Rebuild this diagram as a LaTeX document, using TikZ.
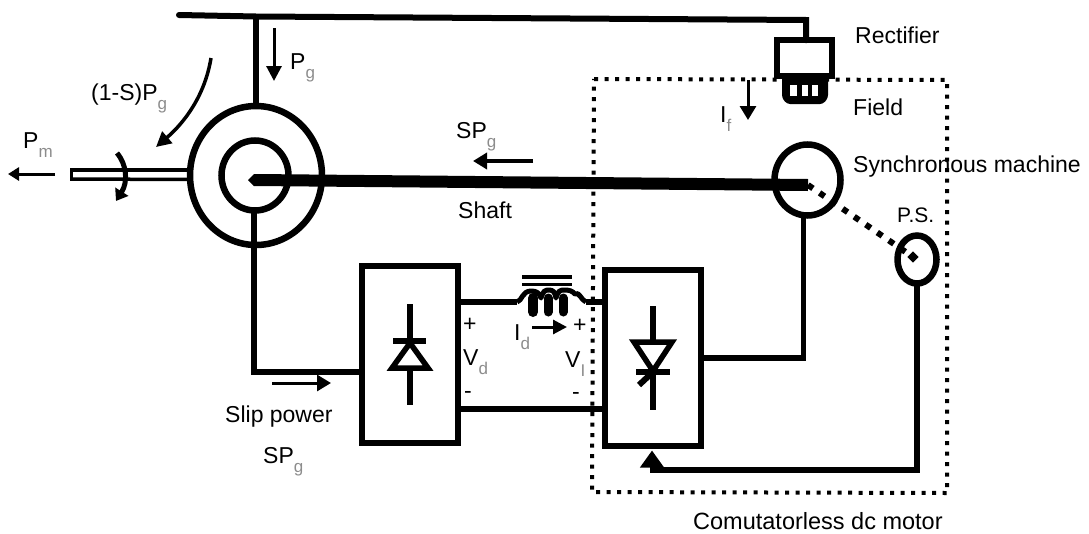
\documentclass[tikz,border=0pt]{standalone}
\usepackage{fontspec}
\setmainfont{Liberation Sans}
\usetikzlibrary{arrows.meta,shapes.geometric,calc}
\newcommand{\subs}[1]{\raisebox{-0.42em}{\color{black!45}\fontsize{17}{17}\selectfont #1}}
\tikzset{
  wire/.style={line width=5.5pt,line cap=butt,line join=miter},
  blockbox/.style={draw,line width=6pt,fill=white,rectangle,inner sep=0,outer sep=0},
  ring/.style={draw,line width=6.5pt,ellipse,inner sep=0,outer sep=0},
  flow/.style={line width=3pt,-{Triangle[length=15pt,width=15pt]}},
  smallflow/.style={line width=3pt,-{Triangle[length=11pt,width=13pt]}},
  dotline/.style={line width=4pt,dash pattern=on 4pt off 6.5pt},
  lab/.style={anchor=base west,inner sep=0,font=\fontsize{23}{25}\selectfont},
  symb/.style={anchor=base west,inner sep=0,font=\fontsize{23}{25}\selectfont},
  sym/.style={line width=5.5pt}
}
\begin{document}
\begin{tikzpicture}[x=1pt,y=-1pt]
\useasboundingbox (0,0) rectangle (1089,533);
% enclosure
\coordinate (dTL) at (594,79); \coordinate (dTR) at (947,80);
\coordinate (dBR) at (947,493); \coordinate (dBL) at (592,492);
\draw[dotline] (dTL) -- (dTR) -- (dBR) -- (dBL) -- cycle;
% machines
\node[ring,minimum width=132,minimum height=139] (gen) at (256,175.5) {};
\node[ring,minimum width=67,minimum height=70] (rotor) at (255,175.5) {};
\node[ring,minimum width=66,minimum height=71] (sync) at (807.5,180) {};
\node[ring,minimum width=39,minimum height=48] (ps) at (917,259.5) {};
% blocks
\node[blockbox,minimum width=96,minimum height=177] (conv1) at (409.5,354.5) {};
\node[blockbox,minimum width=96,minimum height=176] (conv2) at (653,357.5) {};
\node[blockbox,minimum width=55,minimum height=35.5] (rect) at (804.75,58) {};
% bus
\coordinate (busL) at (179,15); \coordinate (busT) at (256,16.5); \coordinate (busR) at (806,20);
\draw[line width=6pt,line cap=round] (busL) -- (busT) -- (busR) -- (busR |- rect.north);
\draw[wire] (busT) -- (gen.north);
% shaft
\coordinate (shL) at (254,180); \coordinate (shR) at (808,185);
\draw[line width=12pt] (shL) -- (shR);
\fill (248,180) -- (254,174) -- (254,186) -- cycle;
% output shaft
\coordinate (outL) at (72,174.5);
\draw[line width=4.5pt] (outL) ++(0,-4.5) -- (gen.west |- 0,170);
\draw[line width=3.5pt] (outL) ++(0,4.5) -- (gen.west |- 0,179.5);
\draw[line width=3pt] (71,168) -- (71,181);
% converter wiring
\coordinate (c1w) at (conv1.west |- 0,372);
\draw[wire] (rotor.south) ++(-1,0) coordinate (rotB) -- (rotB |- c1w) -- (c1w);
\coordinate (s1) at (conv2.east |- 0,358);
\coordinate (syncB) at ($(sync.south)+(-4,0)$);
\draw[wire] (syncB) -- (syncB |- s1) -- (s1);
\coordinate (a1) at (459,302); \coordinate (a2) at (517,302);
\coordinate (a3) at (586,302); \coordinate (a4) at (605,302);
\draw[wire] (a1) -- (a2);
\draw[wire] (a3) -- (a4);
\coordinate (b1) at (459,409); \coordinate (b2) at (605,409);
\draw[wire] (b1) -- (b2);
% inductor
\draw[line width=4pt] (522,277) -- (572,277);
\draw[line width=3.5pt] (522,284.5) -- (572,284.5);
\draw[line width=5pt,line join=round] (a2) .. controls (522,301) and (522,291) .. (531,291)
  .. controls (537,291) and (539,293) .. (541,298)
  .. controls (543,291) and (545,290) .. (549,290)
  .. controls (553,290) and (555,292) .. (556,298)
  .. controls (558,291) and (560,290) .. (564,290)
  .. controls (570,290) and (572,291) .. (575,294)
  .. controls (579,291) and (581,300) .. (a3);
\draw[line width=10pt,line cap=round] (533,298) -- (533,312);
\draw[line width=9pt,line cap=round] (548,298) -- (548,312);
\draw[line width=9pt,line cap=round] (563,298) -- (563,312);
% field coil
\fill[rounded corners=3pt] (782,76) -- (828,76) -- (828,98) -- (823,104) -- (787,104) -- (782,98) -- cycle;
\fill[white] (790,85) rectangle (797,96);
\fill[white] (802,85) rectangle (808,96);
\fill[white] (812,85) rectangle (818,96);
% position sensor
\coordinate (psc) at (913,257);
\draw[line width=6pt,dash pattern=on 6pt off 8pt] (shR) -- (psc);
\fill[rotate around={45:(psc)}] (909,253) rectangle (917,261);
% gate signal
\coordinate (g1) at (917,470); \coordinate (g2) at (652,470);
\draw[wire] (ps.south) -- (g1) -- (g2);
\draw[line width=5pt,shorten >=5pt,-{Triangle[length=17pt,width=23pt]}] (g2) ++(0,2.5) -- (conv2.south -| g2);
% diode
\draw[sym] (410,304) -- (410,341);
\draw[sym] (393,341) -- (426,341);
\draw[sym,line join=miter] (410,343) -- (392,368) -- (428,368) -- cycle;
\draw[sym] (410,368) -- (410,405);
% thyristor
\draw[sym] (653,306) -- (653,342);
\draw[sym,line join=miter] (634,342) -- (672,342) -- (653,371) -- cycle;
\draw[sym] (636,372) -- (670,372);
\draw[sym] (653,372) -- (653,410);
\draw[line width=6pt] (653,372) -- (639,385);
% arrows
\coordinate (pgA) at (274,28); \coordinate (pgB) at (274,81);
\draw[flow] (pgA) -- (pgB);
\coordinate (oA) at (211,58); \coordinate (oB) at (156,147);
\draw[line width=3.5pt,-{Triangle[length=15pt,width=15pt]}] (oA) .. controls (205,95) and (185,122) .. (oB);
\coordinate (pmA) at (55,174); \coordinate (pmB) at (8,174);
\draw[smallflow] (pmA) -- (pmB);
\coordinate (rA) at (117,153); \coordinate (rB) at (116,201);
\draw[line width=5pt,-{Triangle[length=11pt,width=15pt]}] (rA) .. controls (127,165) and (128,182) .. (rB);
\coordinate (spA) at (533,161); \coordinate (spB) at (473,161);
\draw[line width=4.5pt,-{Triangle[length=14pt,width=16pt]}] (spA) -- (spB);
\coordinate (slA) at (272,383); \coordinate (slB) at (331,383);
\draw[smallflow,-{Triangle[length=14pt,width=16pt]}] (slA) -- (slB);
\coordinate (ifA) at (748,80); \coordinate (ifB) at (748,120);
\draw[line width=3pt,-{Triangle[length=14pt,width=16pt]}] (ifA) -- (ifB);
\coordinate (idA) at (532,327); \coordinate (idB) at (567,327);
\draw[smallflow,-{Triangle[length=14pt,width=14pt]}] (idA) -- (idB);
% labels
\node[lab] (tRect) at (855,43) {Rectifier};
\node[lab] (tField) at (853,115) {Field};
\node[lab] (tSync) at (853,172) {Synchronous machine};
\node[lab,font=\fontsize{21}{23}\selectfont] (tPS) at (897,222) {P.S.};
\node[lab] (tIf) at (720,122) {I\subs{f}};
\node[lab] (tOne) at (91,100) {(1-S)P\subs{g}};
\node[lab] (tPm) at (23,148) {P\subs{m}};
\node[lab] (tPg) at (290,69) {P\subs{g}};
\node[lab] (tSP) at (456,138) {SP\subs{g}};
\node[lab] (tShaft) at (458,218) {Shaft};
\node[lab] (tSlip) at (225,422) {Slip power};
\node[lab] (tSP2) at (263,463) {SP\subs{g}};
\node[lab,font=\fontsize{23.5}{25}\selectfont] (tMotor) at (693,529) {Comutatorless dc motor};
\node[symb] (tP1) at (463,331) {+};
\node[symb] (tP2) at (573,332) {+};
\node[lab] (tVd) at (463,365) {V\subs{d}};
\node[lab] (tVi) at (565,367) {V\subs{I}};
\node[symb] (tM1) at (464,398) {-};
\node[symb] (tM2) at (572,399) {-};
\node[lab] (tId) at (514,340) {I\subs{d}};
\end{tikzpicture}
\end{document}
